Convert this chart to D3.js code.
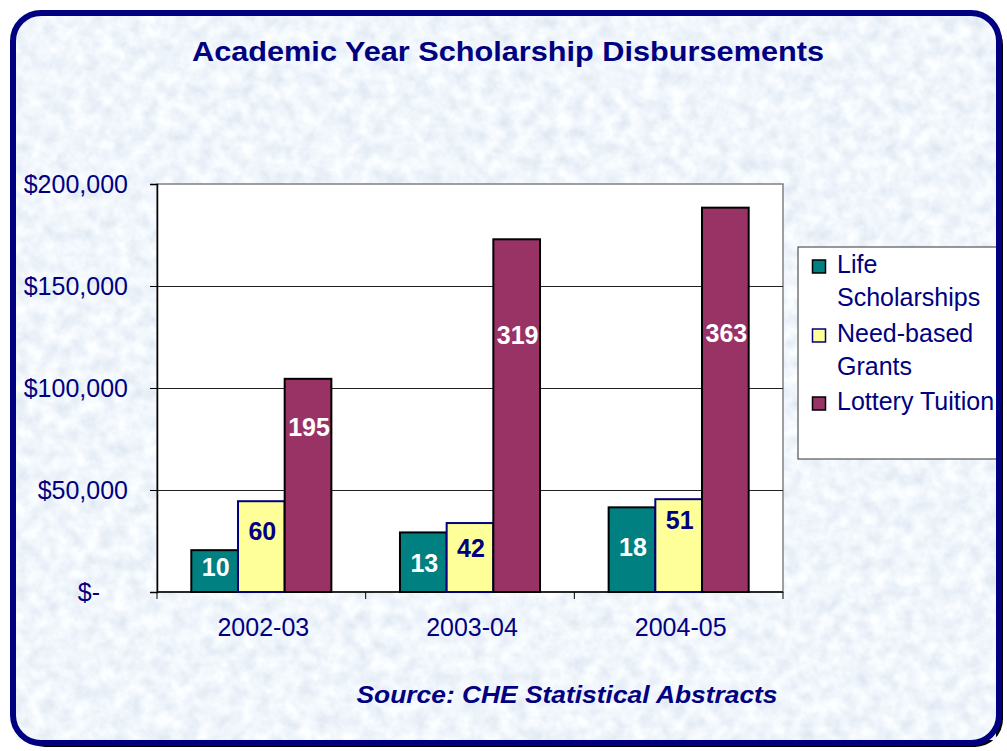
<!DOCTYPE html>
<meta charset="utf-8">
<script src="https://d3js.org/d3.v7.min.js"></script>
<style>
  body { margin: 0; background: #fff; font-family: Arial, "Liberation Sans", sans-serif; }
  svg { display: block; }
</style>
<div id="chart"></div>
<script>

// data
var years = ["2002-03", "2003-04", "2004-05"];
var seriesNames = ["Life Scholarships", "Need-based Grants", "Lottery Tuition"];
var lifeValues = [20500, 29200, 41500];
var needValues = [44500, 33800, 45500];
var lotteryValues = [104500, 172900, 188400];
var lifeLabels = ["10", "13", "18"];
var needLabels = ["60", "42", "51"];
var lotteryLabels = ["195", "319", "363"];
// where each data label sits (in dollars)
var lifeLabelAt = [12300, 14200, 22000];
var needLabelAt = [29900, 21700, 35300];
var lotteryLabelAt = [80900, 126000, 127000];
var yTicks = [0, 50000, 100000, 150000, 200000];

var navy = "#000080";
var colors = ["#008080", "#FFFF99", "#993366"];
var strokes = ["#000", navy, "#000"];
var labelColors = ["#fff", navy, "#fff"];

var W = 1007, H = 751;
var plot = {left: 157, right: 783, top: 184, bottom: 592};

var svg = d3.select("#chart").append("svg")
  .attr("width", W).attr("height", H);

// mottled paper texture for the frame background
var defs = svg.append("defs");
var f = defs.append("filter").attr("id", "tex").attr("x", 0).attr("y", 0).attr("width", 1).attr("height", 1);
f.append("feTurbulence").attr("type", "fractalNoise").attr("baseFrequency", "0.07").attr("numOctaves", 3).attr("seed", 7).attr("result", "n");
f.append("feColorMatrix").attr("in", "n").attr("type", "matrix")
  .attr("values", "0.35 0 0 0 0.70  0.3 0 0 0 0.77  0.22 0 0 0 0.86  0 0 0 0 1");

// frame: shadow, fill, texture
svg.append("rect").attr("x", 17).attr("y", 17).attr("width", 986).attr("height", 730)
  .attr("rx", 28).attr("fill", "#000");
svg.append("rect").attr("x", 13).attr("y", 13).attr("width", 986).attr("height", 730)
  .attr("rx", 28).attr("fill", "#dde7f3");
svg.append("rect").attr("x", 16).attr("y", 16).attr("width", 980).attr("height", 724)
  .attr("rx", 25).attr("filter", "url(#tex)");

var x0 = d3.scaleBand().domain(years).range([plot.left, plot.right]);
var x1 = d3.scaleBand().domain(d3.range(3)).range([0, x0.bandwidth()]).paddingOuter(0.735);
var y = d3.scaleLinear().domain([0, 200000]).range([plot.bottom, plot.top]);

// plot area
svg.append("rect").attr("x", plot.left).attr("y", plot.top)
  .attr("width", plot.right - plot.left).attr("height", plot.bottom - plot.top)
  .attr("fill", "#fff").attr("stroke", "#808080").attr("stroke-width", 1.5);

svg.append("g").selectAll("line").data(yTicks.slice(1, 4)).join("line")
  .attr("x1", plot.left).attr("x2", plot.right)
  .attr("y1", function(d){ return y(d) + 0.5; }).attr("y2", function(d){ return y(d) + 0.5; })
  .attr("stroke", "#222").attr("stroke-width", 1);

// y axis
var yAxis = svg.append("g").attr("transform", "translate(" + plot.left + ",0)")
  .call(d3.axisLeft(y).tickValues(yTicks).tickSize(7).tickPadding(22)
    .tickFormat(function(d){ return d === 0 ? "$-" : "$" + d3.format(",")(d); }));
yAxis.select(".domain").attr("stroke", "#000").attr("stroke-width", 1.5);
yAxis.selectAll(".tick line").attr("stroke", "#000");
yAxis.selectAll("text").attr("fill", navy).style("font-size", "25px")
  .style("font-family", "Arial, 'Liberation Sans', sans-serif")
  .attr("dx", function(d){ return d === 0 ? -28 : 0; });

// x axis
var xAxis = svg.append("g").attr("transform", "translate(0," + plot.bottom + ")");
xAxis.append("line").attr("x1", plot.left).attr("x2", plot.right)
  .attr("stroke", "#000").attr("stroke-width", 1.5);
xAxis.selectAll("line.tk").data(d3.range(4)).join("line").attr("class", "tk")
  .attr("x1", function(i){ return plot.left + i * x0.bandwidth(); })
  .attr("x2", function(i){ return plot.left + i * x0.bandwidth(); })
  .attr("y1", 0).attr("y2", 7).attr("stroke", "#000");
xAxis.selectAll("text").data(years).join("text")
  .attr("x", function(d){ return x0(d) + x0.bandwidth() / 2 + 2; })
  .attr("y", 44).attr("text-anchor", "middle").attr("fill", navy)
  .style("font-size", "25px").text(function(d){ return d; });

// bars
var series = [lifeValues, needValues, lotteryValues];
var labels = [lifeLabels, needLabels, lotteryLabels];
var labelAt = [lifeLabelAt, needLabelAt, lotteryLabelAt];
var rows = [];
years.forEach(function(yr, i){
  series.forEach(function(s, k){
    rows.push({year: yr, k: k, v: s[i], label: labels[k][i], at: labelAt[k][i]});
  });
});

svg.append("g").selectAll("rect").data(rows).join("rect")
  .attr("x", function(d){ return x0(d.year) + x1(d.k); })
  .attr("y", function(d){ return y(d.v); })
  .attr("width", x1.bandwidth())
  .attr("height", function(d){ return y(0) - y(d.v); })
  .attr("fill", function(d){ return colors[d.k]; })
  .attr("stroke", function(d){ return strokes[d.k]; })
  .attr("stroke-width", 2);

svg.append("g").selectAll("text").data(rows).join("text")
  .attr("x", function(d){ return x0(d.year) + x1(d.k) + x1.bandwidth() / 2 + 1; })
  .attr("y", function(d){ return y(d.at); })
  .attr("dy", "0.36em").attr("text-anchor", "middle")
  .attr("fill", function(d){ return labelColors[d.k]; })
  .style("font-size", "25px").style("font-weight", "bold")
  .text(function(d){ return d.label; });

// legend
var lg = svg.append("g");
lg.append("rect").attr("x", 798).attr("y", 247).attr("width", 200).attr("height", 212)
  .attr("fill", "#fff").attr("stroke", "#333").attr("stroke-width", 1);
var legendLines = [["Life", "Scholarships"], ["Need-based", "Grants"], ["Lottery Tuition"]];
var legendTop = [273, 342, 410];
legendLines.forEach(function(lines, k){
  lg.append("rect").attr("x", 812.5).attr("y", legendTop[k] - 13).attr("width", 13).attr("height", 13)
    .attr("fill", colors[k]).attr("stroke", strokes[k]).attr("stroke-width", 1.5);
  lines.forEach(function(t, j){
    lg.append("text").attr("x", 837).attr("y", legendTop[k] + j * 33)
      .attr("fill", navy).style("font-size", "25px").text(t);
  });
});

// frame border on top
svg.append("rect").attr("x", 13).attr("y", 13).attr("width", 986).attr("height", 730)
  .attr("rx", 28).attr("fill", "none").attr("stroke", navy).attr("stroke-width", 6);

// title & source
svg.append("text").attr("x", 508).attr("y", 61).attr("text-anchor", "middle")
  .attr("fill", navy).style("font-size", "28px").style("font-weight", "bold")
  .attr("textLength", 632).attr("lengthAdjust", "spacingAndGlyphs")
  .text("Academic Year Scholarship Disbursements");
svg.append("text").attr("x", 567).attr("y", 703).attr("text-anchor", "middle")
  .attr("fill", navy).style("font-size", "23px").style("font-weight", "bold").style("font-style", "italic")
  .attr("textLength", 421).attr("lengthAdjust", "spacingAndGlyphs")
  .text("Source: CHE Statistical Abstracts");

</script>
